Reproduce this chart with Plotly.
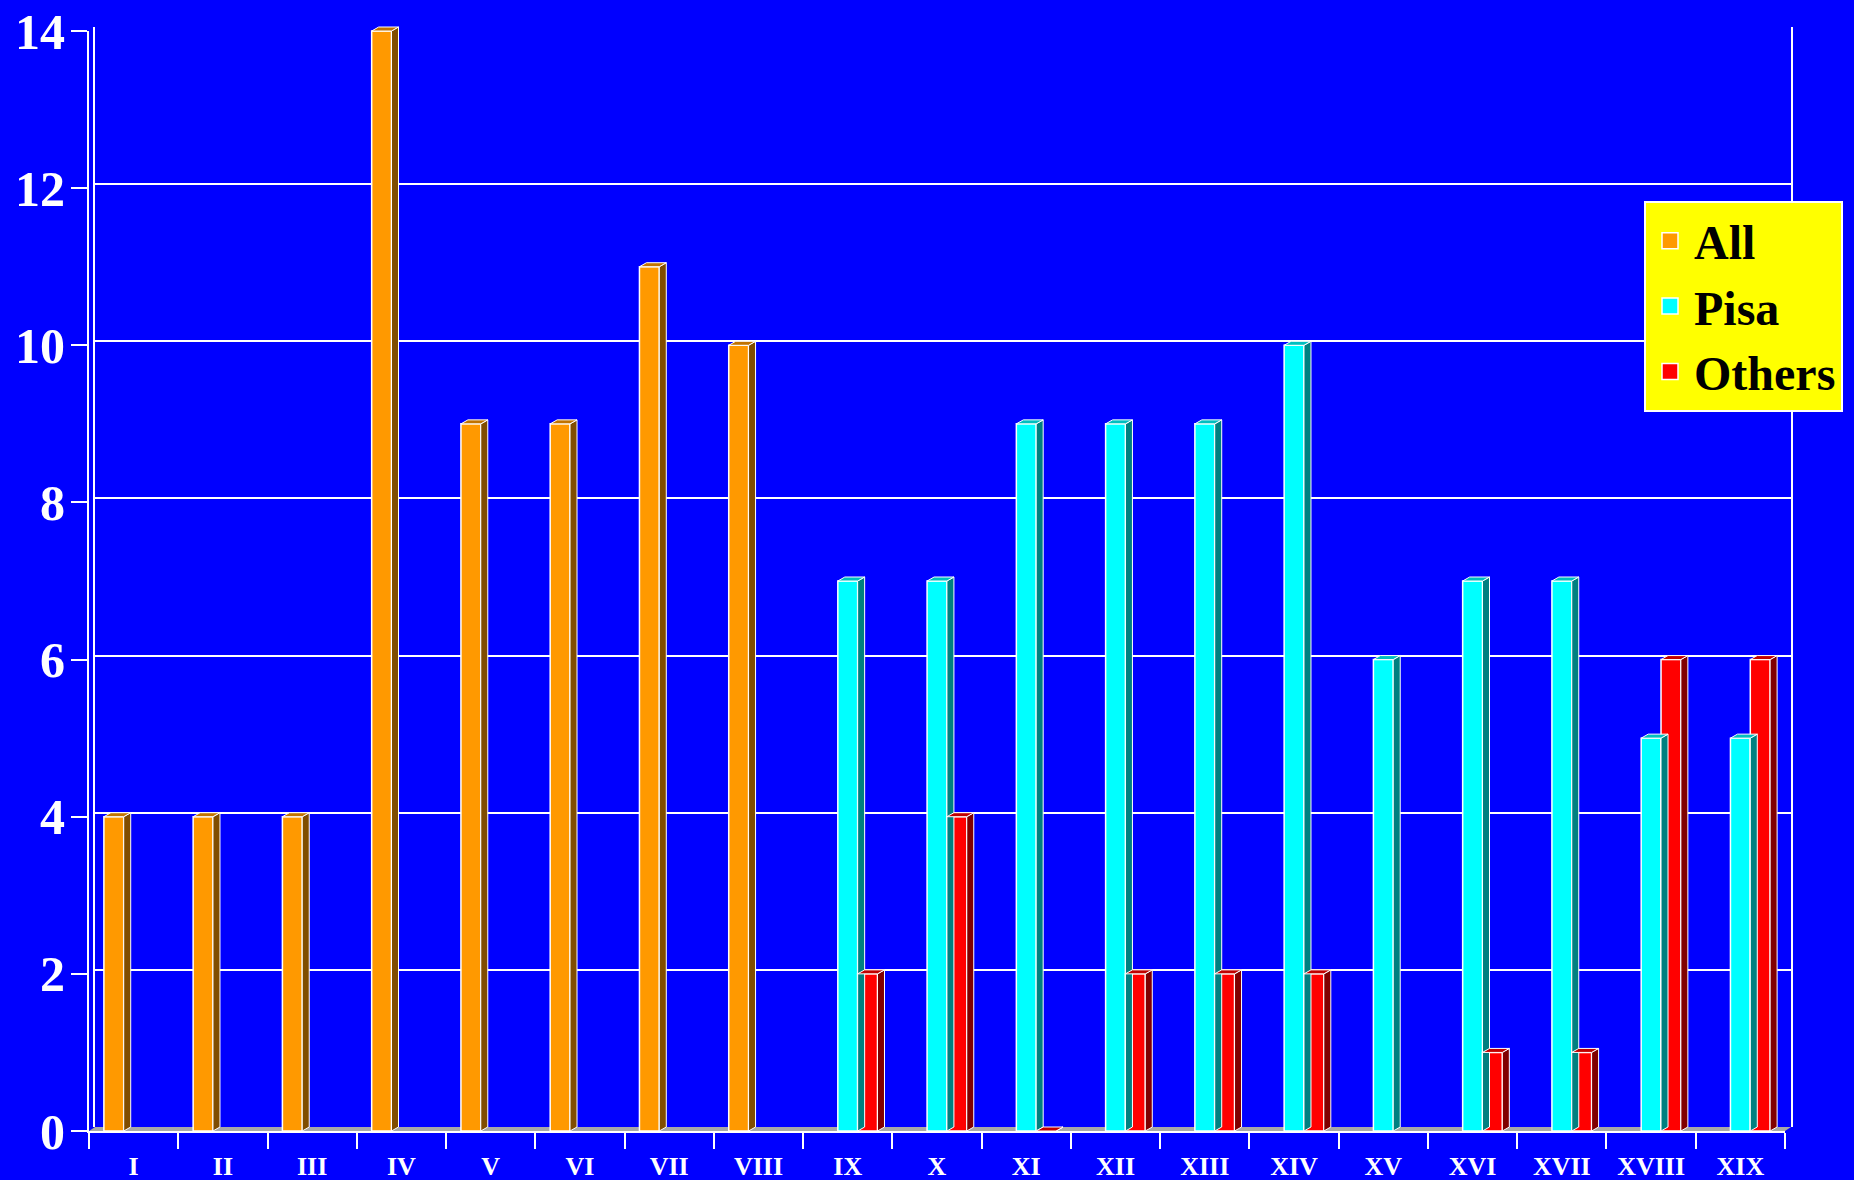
import plotly.graph_objects as go

categories = ["I", "II", "III", "IV", "V", "VI", "VII", "VIII", "IX", "X",
              "XI", "XII", "XIII", "XIV", "XV", "XVI", "XVII", "XVIII", "XIX"]
all_vals = [4, 4, 4, 14, 9, 9, 11, 10, None, None, None, None, None, None, None, None, None, None, None]
pisa_vals = [None, None, None, None, None, None, None, None, 7, 7, 9, 9, 9, 10, 6, 7, 7, 5, 5]
others_vals = [None, None, None, None, None, None, None, None, 2, 4, 0, 2, 2, 2, None, 1, 1, 6, 6]
y_ticks = [0, 2, 4, 6, 8, 10, 12, 14]

series = [
    ("All", all_vals, "#FF9900", "#804D00", "#C07300"),
    ("Pisa", pisa_vals, "#00FFFF", "#008080", "#00BFBF"),
    ("Others", others_vals, "#FF0000", "#800000", "#C00000"),
]

W, H = 1854, 1180
ML, MR, MT, MB = 89, 63, 20, 49
PW = W - ML - MR          # 1702
PH = H - MT - MB          # 1111
front_left, front_right = 89, 1785
front_bottom, front_top = 1131, 31
wall_x, wall_y = 6, 4     # pixel offset of the back wall
depth_x, depth_y = 7, 4   # pixel depth of the bars

px_per_x = (front_right - front_left) / len(categories)
px_per_y = (front_bottom - front_top) / 14.0
dx = depth_x / px_per_x
dy = depth_y / px_per_y

bar_w = 2.0 / 9.0
n = len(categories)

fig = go.Figure()

FONT = "Liberation Serif, Times New Roman, serif"

# invisible trace so the back-wall subplot is drawn
fig.add_trace(go.Scatter(x=[None], y=[None], mode="markers", showlegend=False,
                         hoverinfo="skip", xaxis="x", yaxis="y"))

for k, (name, vals, col, side_col, top_col) in enumerate(series):
    xs, ys = [], []
    sx, sy, tx, ty = [], [], [], []
    for i, v in enumerate(vals):
        if v is None:
            continue
        xc = i + (k - 1) * bar_w
        xs.append(xc)
        ys.append(v)
        xl, xr_ = xc - bar_w / 2, xc + bar_w / 2
        sx += [xr_, xr_ + dx, xr_ + dx, xr_, xr_, None]
        sy += [0, dy, v + dy, v, 0, None]
        tx += [xl, xl + dx, xr_ + dx, xr_, xl, None]
        ty += [v, v + dy, v + dy, v, v, None]
    fig.add_trace(go.Scatter(x=sx, y=sy, mode="lines", fill="toself", fillcolor=side_col,
                             line=dict(color="white", width=1), showlegend=False,
                             hoverinfo="skip", xaxis="x2", yaxis="y2"))
    fig.add_trace(go.Scatter(x=tx, y=ty, mode="lines", fill="toself", fillcolor=top_col,
                             line=dict(color="white", width=1), showlegend=False,
                             hoverinfo="skip", xaxis="x2", yaxis="y2"))
    fig.add_trace(go.Bar(x=xs, y=ys, width=bar_w, name=name, showlegend=False,
                         marker=dict(color=col, line=dict(color="white", width=1.5)),
                         xaxis="x2", yaxis="y2"))

for name, vals, col, side_col, top_col in series:
    fig.add_trace(go.Scatter(x=[None], y=[None], mode="markers", name=name,
                             marker=dict(symbol="square", size=16, color=col,
                                         line=dict(color="white", width=1.5)),
                             xaxis="x3", yaxis="y3"))

def px_x(p):
    return min(max((p - ML) / PW, 0.0), 1.0)

def px_y(p):
    return min(max((MT + PH - p) / PH, 0.0), 1.0)

back_dom_x = [px_x(front_left + wall_x), px_x(front_right + wall_x)]
back_dom_y = [px_y(front_bottom - wall_y), px_y(front_top - wall_y)]
front_dom_x = [px_x(front_left), px_x(front_right)]
front_dom_y = [px_y(front_bottom), px_y(front_top)]
ext_top = 14 * (front_bottom - MT) / (front_bottom - front_top)

xrange_ = [-0.5, n - 0.5]

floor_path = "M {a} {b} L {c} {d} L {e} {d} L {f} {b} Z".format(
    a=front_dom_x[0], b=front_dom_y[0], c=back_dom_x[0], d=back_dom_y[0],
    e=back_dom_x[1], f=front_dom_x[1])
fig.add_shape(type="path", path=floor_path, xref="paper", yref="paper",
              fillcolor="#A8A8A8", line=dict(width=0), layer="below")

fig.update_layout(
    template="none",
    width=W, height=H,
    margin=dict(l=ML, r=MR, t=MT, b=MB, autoexpand=False),
    paper_bgcolor="#0000FF",
    plot_bgcolor="rgba(0,0,0,0)",
    barmode="overlay",
    xaxis=dict(domain=back_dom_x, range=xrange_, showgrid=False, showticklabels=False,
               zeroline=False, showline=False, ticks="", anchor="y", automargin=False),
    yaxis=dict(domain=back_dom_y, range=[0, 14], tickvals=y_ticks, showgrid=True,
               gridcolor="white", gridwidth=2, showticklabels=False, zeroline=False,
               showline=True, mirror=True, linecolor="white", linewidth=2, ticks="",
               anchor="x", automargin=False),
    xaxis2=dict(domain=front_dom_x, range=xrange_, visible=False, anchor="y2",
                automargin=False),
    yaxis2=dict(domain=[front_dom_y[0], 1], range=[0, ext_top], visible=False, anchor="x2",
                automargin=False),
    xaxis3=dict(domain=front_dom_x, range=xrange_, anchor="y3", automargin=False,
                tickvals=list(range(n)), ticktext=categories, ticks="",
                showgrid=False, zeroline=False, showline=True, linecolor="white", linewidth=2,
                tickfont=dict(family=FONT, size=26, color="white", weight="bold"),
                ticklabelstandoff=11,
                minor=dict(tickvals=[i - 0.5 for i in range(n + 1)], ticks="outside",
                           ticklen=16, tickwidth=2, tickcolor="white", showgrid=False)),
    yaxis3=dict(domain=front_dom_y, range=[0, 14], anchor="x3", automargin=False,
                tickvals=y_ticks, ticks="outside", ticklen=16, tickwidth=2, tickcolor="white",
                showgrid=False, zeroline=False, showline=True, linecolor="white", linewidth=2,
                tickfont=dict(family=FONT, size=50, color="white", weight="bold"),
                ticklabelstandoff=-4),
    legend=dict(x=px_x(1644), y=px_y(201), xanchor="left", yanchor="top",
                bgcolor="#FFFF00", bordercolor="white", borderwidth=2,
                font=dict(family=FONT, size=48, color="black", weight="bold"),
                tracegroupgap=0, itemsizing="trace", itemwidth=38),
    showlegend=True,
)

fig.write_html("out.html", config={"displayModeBar": False},
               post_script="document.body.style.margin='0px';document.body.style.overflow='hidden';")
